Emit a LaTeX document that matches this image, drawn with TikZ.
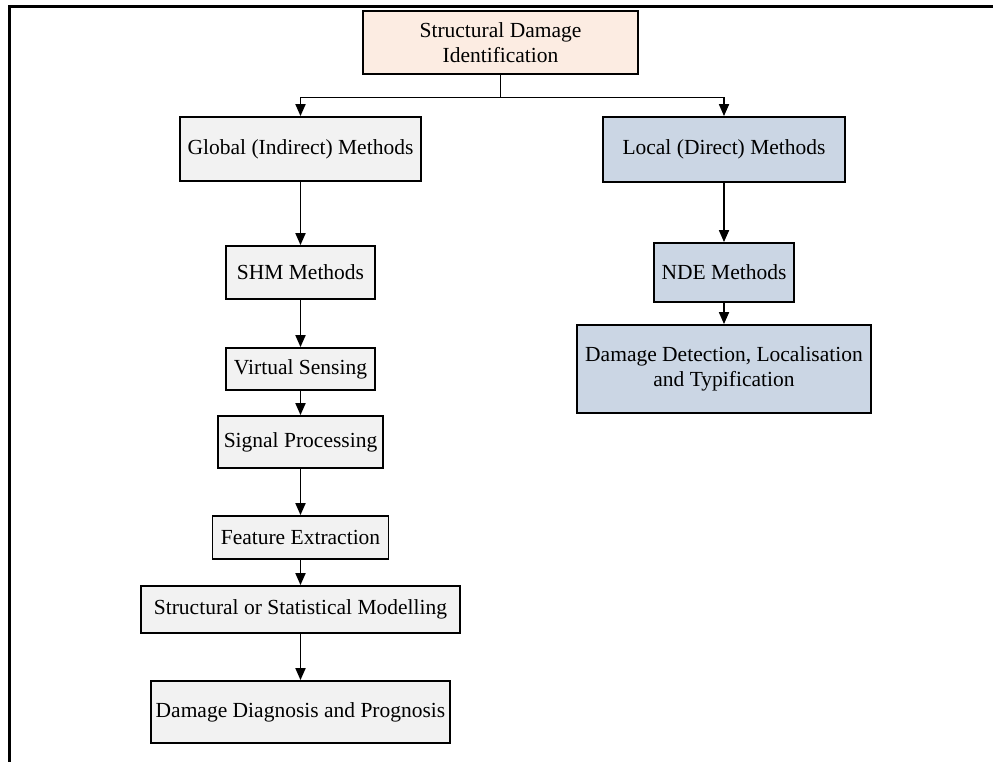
\documentclass[tikz,border=0pt]{standalone}
\usepackage{fontspec}
\setmainfont{Liberation Serif}
\usetikzlibrary{arrows.meta}

\definecolor{peachfill}{RGB}{252,236,226}
\definecolor{greyfill}{RGB}{242,242,242}
\definecolor{bluefill}{RGB}{203,214,228}

\tikzset{
  box/.style={draw=black, line width=1.8pt, align=center, inner sep=0pt,
    font=\fontsize{21.5}{25}\selectfont},
  gbox/.style={box, fill=greyfill},
  bbox/.style={box, fill=bluefill},
  pbox/.style={box, fill=peachfill},
  arr/.style={line width=1.8pt, -{Triangle[length=12pt,width=10pt]}},
  link/.style={line width=1.8pt}
}

\begin{document}
\begin{tikzpicture}[x=1pt,y=-1pt]
  \useasboundingbox (0,0) rectangle (993,762);

  % outer frame (top and left edges)
  \draw[line width=3pt] (9,762) -- (9,7) -- (993,7);

  % root
  \node[pbox, minimum width=275pt, minimum height=63pt] (root) at (500.5,42.5)
    {Structural Damage\\Identification};

  % global branch
  \node[gbox, minimum width=241pt, minimum height=64pt] (global) at (300.5,149)
    {Global (Indirect) Methods};
  \node[gbox, minimum width=149pt, minimum height=53pt] (shm) at (300.5,272.5)
    {SHM Methods};
  \node[gbox, minimum width=149pt, minimum height=42pt] (vs) at (300.5,369)
    {Virtual Sensing};
  \node[gbox, minimum width=165pt, minimum height=52pt] (sp) at (300.5,442)
    {Signal Processing};
  \node[gbox, minimum width=176pt, minimum height=43pt] (fe) at (300.5,537.5)
    {Feature Extraction};
  \node[gbox, minimum width=319pt, minimum height=47pt] (ssm) at (300.5,609.5)
    {Structural or Statistical Modelling};
  \node[gbox, minimum width=299pt, minimum height=62pt] (ddp) at (300.5,712)
    {Damage Diagnosis and Prognosis};

  % local branch
  \node[bbox, minimum width=242pt, minimum height=65pt] (local) at (724,149.5)
    {Local (Direct) Methods};
  \node[bbox, minimum width=140pt, minimum height=59pt] (nde) at (724,272.5)
    {NDE Methods};
  \node[bbox, minimum width=294pt, minimum height=88pt] (dlt) at (724,369)
    {Damage Detection, Localisation\\and Typification};

  % split below the root
  \coordinate (split) at (500.5,97.5);
  \draw[link] (root.south) -- (split);
  \draw[arr] (split) -| (global.north);
  \draw[arr] (split) -| (local.north);

  % chains
  \draw[arr] (global) -- (shm);
  \draw[arr] (shm) -- (vs);
  \draw[arr] (vs) -- (sp);
  \draw[arr] (sp) -- (fe);
  \draw[arr] (fe) -- (ssm);
  \draw[arr] (ssm) -- (ddp);
  \draw[arr] (local) -- (nde);
  \draw[arr] (nde) -- (dlt);
\end{tikzpicture}
\end{document}
